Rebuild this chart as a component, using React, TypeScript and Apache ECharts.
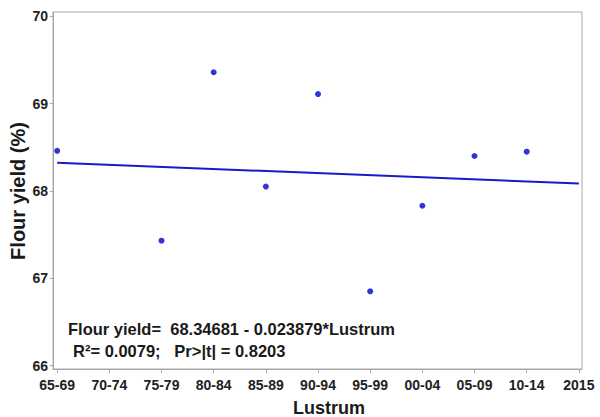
import React, { useEffect, useRef } from "react";
import * as echarts from "echarts";

const lustrumLabels = ["65-69", "70-74", "75-79", "80-84", "85-89", "90-94", "95-99", "00-04", "05-09", "10-14", "2015"];
const pointPositions = [1, 3, 4, 5, 6, 7, 8, 9, 10];
const flourYield = [68.46, 67.43, 69.36, 68.05, 69.11, 66.85, 67.83, 68.4, 68.45];
const yTicks = [66, 67, 68, 69, 70];
const intercept = 68.34681;
const slope = -0.023879;
const fitRange = [1, 11];
const equationText = "Flour yield=  68.34681 - 0.023879*Lustrum";
const statsText = "R\u00B2= 0.0079;   Pr>|t| = 0.8203";
const xTitle = "Lustrum";
const yTitle = "Flour yield (%)";

const FONT = "'Liberation Sans', Arial, sans-serif";

export default function App() {
  const ref = useRef<HTMLDivElement>(null);
  useEffect(() => {
    if (!ref.current) return;
    document.body.style.margin = "0";
    const chart = echarts.init(ref.current, null, { renderer: "svg" });
    const xTickVals = lustrumLabels.map((_, i) => i + 1);
    const scatterData = pointPositions.map((p, i) => [p, flourYield[i]]);
    const lineData = fitRange.map((x) => [x, intercept + slope * x]);
    chart.setOption({
      animation: false,
      backgroundColor: "#ffffff",
      textStyle: { fontFamily: FONT },
      grid: {
        left: 53,
        right: 18,
        top: 12,
        bottom: 48,
        show: true,
        borderColor: "#a8a8a8",
        borderWidth: 1,
        containLabel: false,
        outerBoundsMode: "none",
      },
      xAxis: {
        type: "value",
        min: 0.92,
        max: 11.06,
        axisLine: { show: true, lineStyle: { color: "#a8a8a8", width: 1 } },
        axisTick: { show: true, length: 4, customValues: xTickVals, lineStyle: { color: "#a8a8a8" } },
        axisLabel: {
          customValues: xTickVals,
          formatter: (v: number) => lustrumLabels[Math.round(v) - 1] ?? "",
          fontSize: 14,
          fontWeight: "bold",
          color: "#222222",
          fontFamily: FONT,
          margin: 9,
          hideOverlap: false,
        },
        splitLine: { show: false },
      },
      yAxis: {
        type: "value",
        min: 65.96,
        max: 70.05,
        axisLine: { show: true, lineStyle: { color: "#a8a8a8", width: 1 } },
        axisTick: { show: true, length: 3, customValues: yTicks, lineStyle: { color: "#a8a8a8" } },
        axisLabel: {
          customValues: yTicks,
          fontSize: 14,
          fontWeight: "bold",
          color: "#222222",
          fontFamily: FONT,
          margin: 5,
        },
        splitLine: { show: false },
      },
      series: [
        {
          type: "line",
          data: lineData,
          symbol: "none",
          lineStyle: { color: "#1a1acc", width: 2 },
          z: 2,
        },
        {
          type: "scatter",
          data: scatterData,
          symbol: "circle",
          symbolSize: 6,
          itemStyle: { color: "#0000cc" },
          z: 3,
        },
      ],
      graphic: [
        {
          type: "text",
          left: 68,
          top: 320,
          style: { text: equationText, font: `bold 16.5px ${FONT}`, fill: "#1a1a1a" },
        },
        {
          type: "text",
          left: 73,
          top: 342,
          style: { text: statsText, font: `bold 16.5px ${FONT}`, fill: "#1a1a1a" },
        },
        {
          type: "text",
          x: 329,
          y: 399,
          style: { text: xTitle, font: `bold 18px ${FONT}`, fill: "#1a1a1a", align: "center", verticalAlign: "top" },
        },
        {
          type: "text",
          x: 18,
          y: 191,
          rotation: Math.PI / 2,
          style: { text: yTitle, font: `bold 20px ${FONT}`, fill: "#1a1a1a", align: "center", verticalAlign: "middle" },
        },
      ],
    });
    return () => chart.dispose();
  }, []);
  return <div ref={ref} style={{ width: 600, height: 417, position: "absolute", left: 0, top: 0 }} />;
}
